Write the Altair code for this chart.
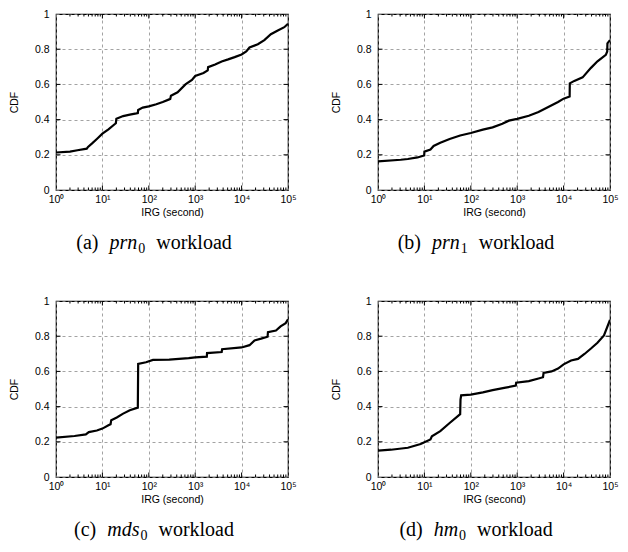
import altair as alt
import pandas as pd

# ---------------- data ----------------
irg_a = [1, 2, 2.9, 4.6, 4.9, 6, 7.6, 10, 13.5, 18.6, 19.5, 20, 28, 39, 54, 58, 59, 74, 100,
         145, 200, 275, 290, 300, 417, 617, 851, 1000, 1510, 1860, 1900, 2690, 3720, 5130,
         7080, 10000, 12600, 14800, 22400, 30900, 42700, 58900, 83200, 100000]
cdf_a = [0.213, 0.218, 0.226, 0.235, 0.245, 0.265, 0.29, 0.32, 0.345, 0.375, 0.38, 0.405, 0.42,
         0.428, 0.435, 0.437, 0.455, 0.468, 0.475, 0.487, 0.5, 0.515, 0.517, 0.535, 0.555, 0.6,
         0.625, 0.648, 0.665, 0.68, 0.698, 0.713, 0.73, 0.742, 0.755, 0.77, 0.787, 0.81, 0.828,
         0.852, 0.885, 0.905, 0.925, 0.945]

irg_b = [1, 3.1, 4.4, 7.1, 9.9, 10, 13.5, 15.8, 22, 35, 59, 100, 182, 295, 479, 661, 1000, 1780,
         2880, 4680, 7590, 10000, 13500, 13600, 17000, 25700, 38900, 53700, 81300, 87100, 88000,
         100000]
cdf_b = [0.163, 0.172, 0.176, 0.185, 0.196, 0.218, 0.23, 0.25, 0.268, 0.29, 0.31, 0.324, 0.343,
         0.356, 0.376, 0.394, 0.404, 0.422, 0.443, 0.472, 0.5, 0.519, 0.531, 0.606, 0.62, 0.64,
         0.694, 0.731, 0.768, 0.787, 0.833, 0.852]

irg_c = [1, 2.5, 4.4, 5.1, 7.6, 10, 13.5, 15, 15.5, 20.4, 28, 39, 58, 59, 87, 123, 275, 724, 1000,
         1780, 1800, 3720, 3800, 10000, 14800, 19000, 26300, 36300, 37000, 55000, 69200, 89100,
         100000]
cdf_c = [0.224, 0.233, 0.242, 0.255, 0.264, 0.275, 0.294, 0.3, 0.323, 0.338, 0.36, 0.379, 0.394,
         0.643, 0.652, 0.665, 0.667, 0.675, 0.68, 0.684, 0.704, 0.71, 0.726, 0.736, 0.749, 0.776,
         0.786, 0.797, 0.823, 0.832, 0.856, 0.874, 0.896]

irg_d = [1, 1.9, 4.4, 8.3, 10, 13.5, 14.5, 22, 35, 59, 60, 62, 100, 182, 295, 562, 933, 950, 1780,
         2880, 3600, 3700, 5500, 7590, 10000, 14500, 20400, 28200, 38900, 53700, 74100, 100000]
cdf_d = [0.15, 0.155, 0.166, 0.187, 0.198, 0.213, 0.231, 0.261, 0.307, 0.357, 0.44, 0.464, 0.468,
         0.481, 0.494, 0.508, 0.519, 0.536, 0.545, 0.56, 0.567, 0.591, 0.6, 0.616, 0.64, 0.662,
         0.671, 0.699, 0.73, 0.763, 0.804, 0.893]

letters = ["(a)", "(b)", "(c)", "(d)"]
names = ["prn", "prn", "mds", "hm"]
subs = ["0", "1", "0", "0"]

x_ticks = [1, 10, 100, 1000, 10000, 100000]
x_tick_labels = ["10⁰", "10¹", "10²", "10³", "10⁴", "10⁵"]
y_ticks = [0, 0.2, 0.4, 0.6, 0.8, 1]
minor_x = [k * 10 ** d for d in range(5) for k in range(2, 10)]

# ---------------- layout ----------------
W, H = 232, 176
SANS = "Liberation Sans"
SERIF = "Liberation Serif"

label_expr = ("[" + ",".join("'" + s + "'" for s in x_tick_labels) + "][indexof(["
              + ",".join(str(v) for v in x_ticks) + "], datum.value)]")

xs = alt.Scale(type="log", domain=[1, 100000], nice=False)
ys = alt.Scale(domain=[0, 1], nice=False)
common_axis = dict(grid=True, gridDash=[3, 3], gridColor="#8c8c8c", gridWidth=0.8,
                   ticks=False, domain=False, labelFont=SANS, labelFontSize=10.5,
                   labelColor="black", titleFont=SANS, titleFontSize=10.5,
                   titleFontWeight="normal", titleColor="black")
x_axis = alt.Axis(values=x_ticks, labelExpr=label_expr, title="IRG (second)",
                  labelPadding=4, titlePadding=3, labelFlush=False, labelOverlap=False,
                  **common_axis)
y_axis = alt.Axis(values=y_ticks, format="~g", title="CDF", labelPadding=7, titlePadding=15,
                  labelOverlap=False, **common_axis)

letter_w = {"(a)": 22.2, "(b)": 23.3, "(c)": 22.2, "(d)": 23.3}
name_w = {"prn": 27.8, "mds": 32.2, "hm": 24.4}
GAP, SUBW, WORKW = 11, 7, 75.5
CAP_CENTER = 98
CAP_Y = H + 59


def panel(irg, cdf, letter, name, sub):
    df = pd.DataFrame({"irg": irg, "cdf": cdf})
    X = alt.X("irg:Q", scale=xs, axis=x_axis)
    Y = alt.Y("cdf:Q", scale=ys, axis=y_axis)

    line = alt.Chart(df).mark_line(color="black", strokeWidth=2.2, clip=True).encode(x=X, y=Y)

    maj = pd.DataFrame({"irg": x_ticks[1:-1]})
    mnr = pd.DataFrame({"irg": minor_x})
    ymaj = pd.DataFrame({"cdf": y_ticks[1:-1]})
    tick_layers = []
    for d, L in ((maj, 4.5), (mnr, 2.5)):
        tick_layers.append(alt.Chart(d).mark_rule(color="black", strokeWidth=1).encode(
            x=X, y=alt.value(H), y2=alt.value(H - L)))
        tick_layers.append(alt.Chart(d).mark_rule(color="black", strokeWidth=1).encode(
            x=X, y=alt.value(0), y2=alt.value(L)))
    tick_layers.append(alt.Chart(ymaj).mark_rule(color="black", strokeWidth=1).encode(
        y=Y, x=alt.value(0), x2=alt.value(4.5)))
    tick_layers.append(alt.Chart(ymaj).mark_rule(color="black", strokeWidth=1).encode(
        y=Y, x=alt.value(W), x2=alt.value(W - 4.5)))

    total = letter_w[letter] + GAP + name_w[name] + 1 + SUBW + GAP + WORKW
    x0 = CAP_CENTER - total / 2
    x1 = x0 + letter_w[letter] + GAP
    x2 = x1 + name_w[name] + 1
    x3 = x2 + SUBW + GAP
    one = pd.DataFrame({"k": [0]})
    cap = [
        alt.Chart(one).mark_text(text=letter, align="left", baseline="alphabetic", font=SERIF,
                                 fontSize=20, color="black").encode(x=alt.value(x0), y=alt.value(CAP_Y)),
        alt.Chart(one).mark_text(text=name, align="left", baseline="alphabetic", font=SERIF,
                                 fontSize=20, fontStyle="italic", color="black").encode(
            x=alt.value(x1), y=alt.value(CAP_Y)),
        alt.Chart(one).mark_text(text=sub, align="left", baseline="alphabetic", font=SERIF,
                                 fontSize=14, color="black").encode(x=alt.value(x2), y=alt.value(CAP_Y + 4)),
        alt.Chart(one).mark_text(text="workload", align="left", baseline="alphabetic", font=SERIF,
                                 fontSize=20, color="black").encode(x=alt.value(x3), y=alt.value(CAP_Y)),
    ]
    return alt.layer(line, *tick_layers, *cap).properties(width=W, height=H)


pa = panel(irg_a, cdf_a, letters[0], names[0], subs[0])
pb = panel(irg_b, cdf_b, letters[1], names[1], subs[1])
pc = panel(irg_c, cdf_c, letters[2], names[2], subs[2])
pd_ = panel(irg_d, cdf_d, letters[3], names[3], subs[3])

chart = alt.vconcat(
    alt.hconcat(pa, pb, spacing=33),
    alt.hconcat(pc, pd_, spacing=33),
    spacing=38,
).properties(padding=0).configure_view(
    stroke="black", strokeWidth=1.2
)

chart.save("out.html", embed_options={"renderer": "svg", "actions": False})
